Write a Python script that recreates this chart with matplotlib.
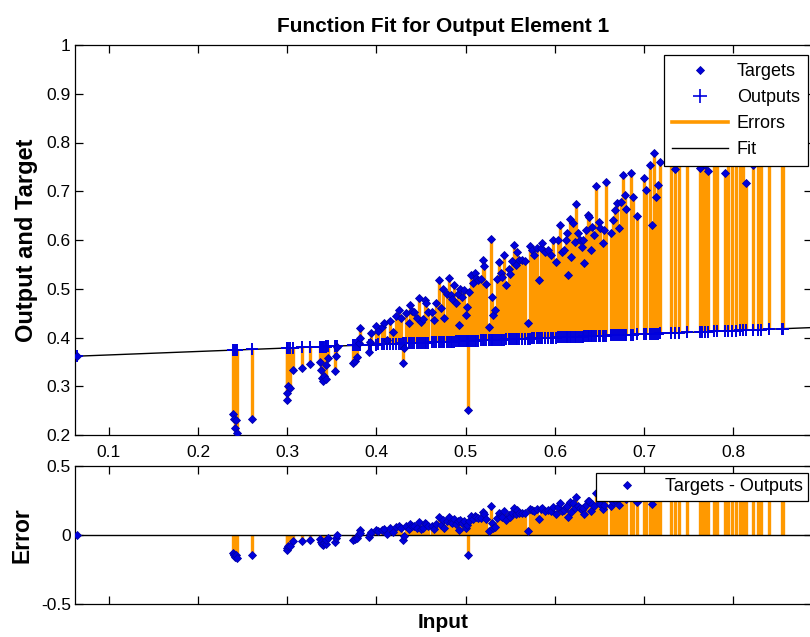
import numpy as np
import matplotlib
matplotlib.use("Agg")
import matplotlib.pyplot as plt
from matplotlib.lines import Line2D

plt.rcParams['font.family'] = ['Liberation Sans', 'DejaVu Sans']

# ---- data -------------------------------------------------------------
inputs = [
    0.065,
    0.239, 0.240, 0.242, 0.243, 0.244, 0.261,
    0.300, 0.300, 0.301, 0.303, 0.306, 0.317, 0.326,
    0.337, 0.338, 0.339, 0.340, 0.341, 0.343, 0.344, 0.346,
    0.354, 0.355, 0.356,
    0.374, 0.376, 0.378, 0.380, 0.381, 0.382, 0.392, 0.393, 0.394,
    0.400, 0.402, 0.406, 0.408, 0.412, 0.415, 0.418,
    0.422, 0.425, 0.427, 0.430, 0.431, 0.433, 0.436, 0.438, 0.440,
    0.442, 0.445, 0.448, 0.450, 0.452, 0.454, 0.456, 0.458,
    0.462, 0.464, 0.467, 0.470, 0.472, 0.474, 0.476, 0.479, 0.481,
    0.483, 0.485, 0.487, 0.489, 0.491, 0.492, 0.494, 0.496, 0.498,
    0.500, 0.501, 0.503, 0.504, 0.506, 0.508, 0.510, 0.512, 0.514,
    0.517, 0.519, 0.521, 0.523, 0.526, 0.528, 0.530, 0.531, 0.533,
    0.535, 0.537, 0.539, 0.541, 0.543, 0.545, 0.548, 0.550, 0.552,
    0.554, 0.556, 0.558, 0.560, 0.563, 0.566, 0.570, 0.572, 0.574,
    0.577, 0.580, 0.582, 0.584, 0.586, 0.589, 0.592, 0.595,
    0.598, 0.601, 0.603, 0.606, 0.608, 0.610, 0.612, 0.614, 0.615,
    0.617, 0.618, 0.620, 0.622, 0.624, 0.626, 0.628, 0.630, 0.631,
    0.633, 0.635, 0.637, 0.638, 0.640, 0.642, 0.644, 0.646, 0.649,
    0.651, 0.654, 0.655, 0.657,
    0.663, 0.665, 0.667, 0.670, 0.672, 0.674, 0.676, 0.678, 0.680,
    0.685, 0.687, 0.692, 0.700, 0.702, 0.706, 0.709, 0.711, 0.713,
    0.716, 0.718,
    0.730, 0.734, 0.739, 0.748, 0.763, 0.765, 0.768, 0.772, 0.778,
    0.781, 0.790, 0.794, 0.798, 0.803, 0.807, 0.811, 0.814, 0.822,
    0.828, 0.831, 0.840, 0.854, 0.856,
]

targets = [
    0.363,
    0.243, 0.232, 0.214, 0.231, 0.205, 0.233,
    0.286, 0.272, 0.300, 0.296, 0.333, 0.337, 0.345,
    0.350, 0.333, 0.317, 0.310, 0.322, 0.314, 0.344, 0.358,
    0.331, 0.362, 0.380,
    0.348, 0.352, 0.360, 0.389, 0.420, 0.400, 0.370, 0.390, 0.409,
    0.424, 0.414, 0.422, 0.430, 0.395, 0.434, 0.412,
    0.445, 0.456, 0.440, 0.348, 0.378, 0.450, 0.430, 0.467, 0.455,
    0.452, 0.440, 0.481, 0.432, 0.438, 0.477, 0.470, 0.452,
    0.452, 0.436, 0.470, 0.518, 0.460, 0.500, 0.440, 0.490, 0.522,
    0.487, 0.480, 0.508, 0.470, 0.490, 0.425, 0.500, 0.483, 0.497,
    0.446, 0.462, 0.251, 0.493, 0.528, 0.512, 0.532, 0.522, 0.518,
    0.520, 0.559, 0.546, 0.510, 0.421, 0.602, 0.483, 0.446, 0.456,
    0.520, 0.555, 0.532, 0.525, 0.569, 0.508, 0.540, 0.530, 0.557,
    0.590, 0.549, 0.575, 0.559, 0.560, 0.556, 0.430, 0.588, 0.580,
    0.570, 0.584, 0.518, 0.584, 0.594, 0.575, 0.580, 0.570,
    0.600, 0.555, 0.600, 0.630, 0.575, 0.580, 0.600, 0.614, 0.528,
    0.643, 0.565, 0.635, 0.596, 0.674, 0.614, 0.600, 0.586, 0.600,
    0.553, 0.620, 0.651, 0.647, 0.580, 0.627, 0.610, 0.711, 0.637,
    0.625, 0.594, 0.620, 0.719,
    0.614, 0.641, 0.661, 0.676, 0.625, 0.678, 0.733, 0.692, 0.664,
    0.737, 0.688, 0.649, 0.727, 0.702, 0.754, 0.631, 0.778, 0.688,
    0.713, 0.760,
    0.790, 0.746, 0.800, 0.820, 0.748, 0.790, 0.754, 0.742, 0.800,
    0.830, 0.737, 0.810, 0.790, 0.820, 0.800, 0.815, 0.717, 0.754,
    0.800, 0.780, 0.810, 0.790, 0.800,
]

# network fit line (input -> output)
fit_x = [0.062, 0.890]
fit_y = [0.3615, 0.4205]

x_ticks = [0.1, 0.2, 0.3, 0.4, 0.5, 0.6, 0.7, 0.8]
x_tick_labels = ['0.1', '0.2', '0.3', '0.4', '0.5', '0.6', '0.7', '0.8']
y_ticks = [0.2, 0.3, 0.4, 0.5, 0.6, 0.7, 0.8, 0.9, 1.0]
y_tick_labels = ['0.2', '0.3', '0.4', '0.5', '0.6', '0.7', '0.8', '0.9', '1']
err_ticks = [-0.5, 0.0, 0.5]
err_tick_labels = ['-0.5', '0', '0.5']

# ---- derived ----------------------------------------------------------
x = np.array(inputs)
t = np.array(targets)
outputs = np.interp(x, fit_x, fit_y)
errors = t - outputs

ORANGE = '#FF9900'
BLUE = '#0000DD'
DMS = 4.5   # diamond marker size

W, H = 810, 637
fig = plt.figure(figsize=(W / 100, H / 100), dpi=100)


def px_axes(left, top, right, bottom):
    return fig.add_axes([left / W, 1 - bottom / H, (right - left) / W, (bottom - top) / H])


ax1 = px_axes(75, 45, 812, 435)
ax2 = px_axes(75, 466, 812, 604)

xlim = (0.0622, 0.888)

for ax in (ax1, ax2):
    ax.set_xlim(*xlim)
    ax.tick_params(direction='in', length=6, width=0.9, top=True, right=True,
                   labelsize=12.5, colors='black')
    ax.tick_params(axis='x', pad=7)
    ax.tick_params(axis='y', pad=3)
    for s in ax.spines.values():
        s.set_linewidth(0.9)
        s.set_color('black')

# top panel: targets, outputs, errors, fit
ax1.vlines(x, outputs, t, colors=ORANGE, linewidth=2.4, zorder=1)
ax1.plot(fit_x, fit_y, color='black', linewidth=1.0, zorder=2)
ax1.plot(x, outputs, linestyle='none', marker='+', markersize=8.5,
         markeredgewidth=1.4, color=BLUE, zorder=3)
ax1.plot(x, t, linestyle='none', marker='D', markersize=DMS,
         markerfacecolor=BLUE, markeredgecolor='#0000AA', markeredgewidth=0.6, zorder=4)
ax1.set_ylim(0.2, 1.0)
ax1.set_xticks(x_ticks)
ax1.set_xticklabels(x_tick_labels)
ax1.set_yticks(y_ticks)
ax1.set_yticklabels(y_tick_labels)
ax1.set_title('Function Fit for Output Element 1', fontsize=15, fontweight='bold', pad=9)

handles = [
    Line2D([], [], linestyle='none', marker='D', markersize=4.0, markerfacecolor=BLUE,
           markeredgecolor='#0000AA', markeredgewidth=0.6),
    Line2D([], [], linestyle='none', marker='+', markersize=10, markeredgewidth=1.2, color=BLUE),
    Line2D([], [], color=ORANGE, linewidth=2.6),
    Line2D([], [], color='black', linewidth=1.0),
]
leg1 = ax1.legend(handles, ['Targets', 'Outputs', 'Errors', 'Fit'],
                  loc='upper right', bbox_to_anchor=(808 / W, 1 - 55 / H),
                  bbox_transform=fig.transFigure, borderaxespad=0,
                  fontsize=13, fancybox=False, framealpha=1, edgecolor='black',
                  handlelength=3.1, handletextpad=0.5, labelspacing=0.5,
                  borderpad=0.45)
leg1.get_frame().set_linewidth(0.9)
leg1.set_zorder(10)

# bottom panel: error stems
ax2.axhline(0, color='black', linewidth=1.0, zorder=2)
ax2.vlines(x, 0, errors, colors=ORANGE, linewidth=2.4, zorder=1)
ax2.plot(x, errors, linestyle='none', marker='D', markersize=DMS,
         markerfacecolor=BLUE, markeredgecolor='#0000AA', markeredgewidth=0.6, zorder=3)
ax2.set_ylim(-0.5, 0.5)
ax2.set_xticks(x_ticks)
ax2.set_xticklabels([])
ax2.set_yticks(err_ticks)
ax2.set_yticklabels(err_tick_labels)

h2 = [Line2D([], [], linestyle='none', marker='D', markersize=4.0, markerfacecolor=BLUE,
             markeredgecolor='#0000AA', markeredgewidth=0.6)]
leg2 = ax2.legend(h2, ['Targets - Outputs'], loc='upper right',
                  bbox_to_anchor=(808 / W, 1 - 473 / H), bbox_transform=fig.transFigure,
                  borderaxespad=0, fontsize=13, fancybox=False, framealpha=1,
                  edgecolor='black', handlelength=2.8, handletextpad=0.7, borderpad=0.3)
leg2.get_frame().set_linewidth(0.9)
leg2.set_zorder(10)

# axis labels
fig.text(26 / W, 1 - 240 / H, 'Output and Target', rotation=90, ha='center', va='center',
         fontsize=17, fontweight='bold')
fig.text(22 / W, 1 - 535 / H, 'Error', rotation=90, ha='center', va='center',
         fontsize=16.5, fontweight='bold')
fig.text(443 / W, 1 - 622 / H, 'Input', ha='center', va='center',
         fontsize=15, fontweight='bold')

fig.savefig('out.png', dpi=100)
